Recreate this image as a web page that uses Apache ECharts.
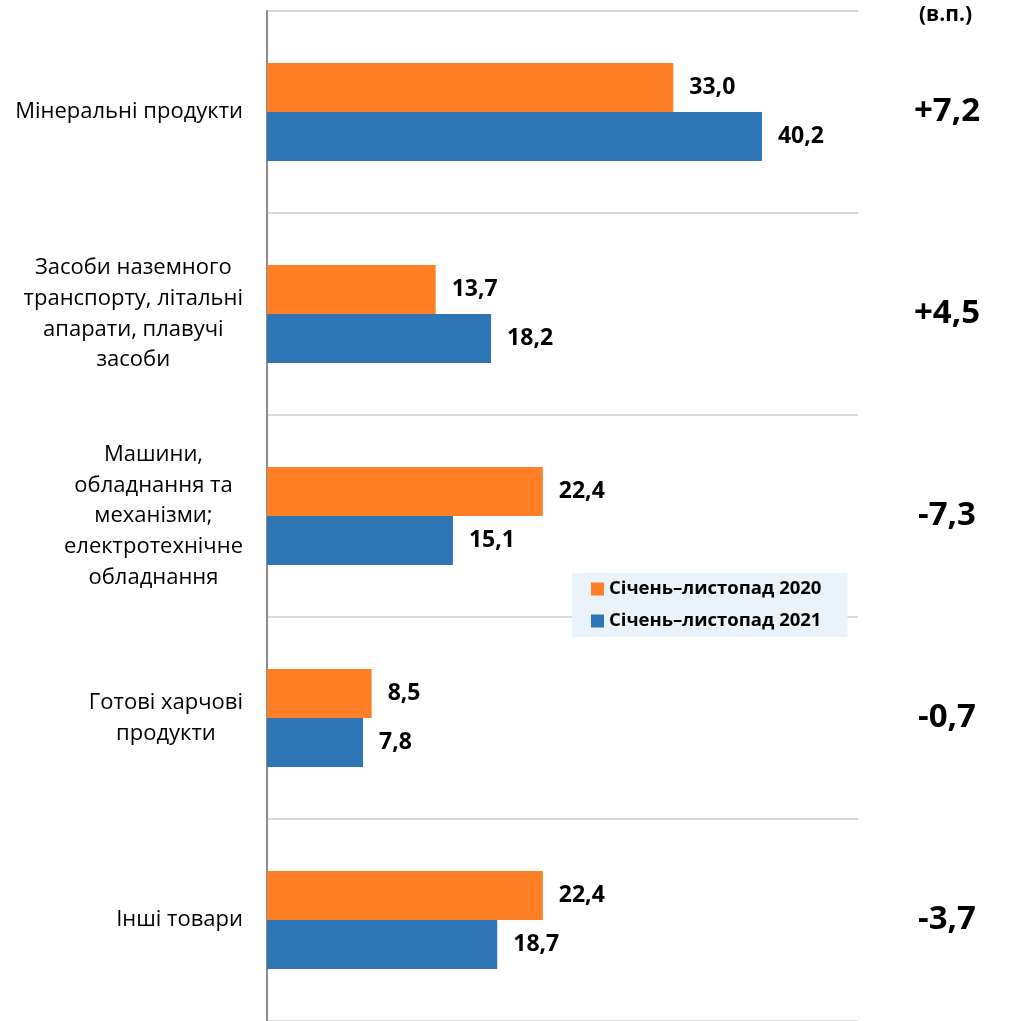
<!DOCTYPE html>
<html><head><meta charset="utf-8">
<script src="https://cdn.jsdelivr.net/npm/echarts@6/dist/echarts.min.js"></script>
<style>html,body{margin:0;padding:0;background:#fff}#c{width:1009px;height:1021px}</style>
</head><body><div id="c"></div>
<script>
const categories = ["Мінеральні продукти", "Засоби наземного\nтранспорту, літальні\nапарати, плавучі\nзасоби", "Машини,\nобладнання та\nмеханізми;\nелектротехнічне\nобладнання", "Готові харчові\nпродукти", "Інші товари"];
const values2020 = [33.0, 13.7, 22.4, 8.5, 22.4];
const values2021 = [40.2, 18.2, 15.1, 7.8, 18.7];
const diffs = ["+7,2", "+4,5", "-7,3", "-0,7", "-3,7"];
const seriesNames = ["Січень–листопад 2020", "Січень–листопад 2021"];
const unitLabel = "(в.п.)";

const FONT = "Open Sans";
const chart = echarts.init(document.getElementById('c'), null, {renderer: 'canvas'});
const fmt = p => p.value.toFixed(1).replace('.', ',');
chart.setOption({
  animation: false,
  textStyle: {fontFamily: FONT},
  title: {text: unitLabel, right: 32, top: 0, textStyle: {fontSize: 21, fontWeight: 'bold', color: '#000', fontFamily: FONT}},
  legend: {
    orient: 'vertical', left: 572, top: 573, itemGap: 10,
    padding: [5, 26, 5, 19],
    backgroundColor: '#EAF2FA',
    icon: 'rect', itemWidth: 13, itemHeight: 13,
    textStyle: {fontSize: 18.5, lineHeight: 22, fontWeight: 'bold', color: '#000', fontFamily: FONT},
    data: seriesNames
  },
  grid: {left: 267, right: 151, top: 11, height: 1015},
  xAxis: {type: 'value', min: 0, max: 48, show: false},
  yAxis: [{
    type: 'category', inverse: true, data: categories,
    axisLine: {lineStyle: {color: '#8c8c8c', width: 2}},
    axisTick: {length: 8, lineStyle: {color: '#8c8c8c', width: 2}},
    splitLine: {show: true, lineStyle: {color: '#d9d9d9', width: 2}},
    axisLabel: {
      margin: 24, align: 'right', color: '#000', fontFamily: FONT,
      formatter: v => v.split('\n').map(s => '{c|' + s + '}').join('\n'),
      rich: {c: {align: 'center', fontSize: 22, lineHeight: 30.7, color: '#000', fontFamily: FONT}}
    }
  }, {
    type: 'category', inverse: true, data: diffs, position: 'right',
    axisLine: {show: false}, axisTick: {show: false}, splitLine: {show: false},
    axisLabel: {margin: 89, align: 'center', fontSize: 33, fontWeight: 'bold', color: '#000', fontFamily: FONT}
  }],
  series: [{
    name: seriesNames[0], type: 'bar', data: values2020, barWidth: 49, barGap: '0%',
    itemStyle: {color: '#FF7F27'},
    label: {show: true, position: 'right', distance: 16, formatter: fmt, fontSize: 23, fontWeight: 'bold', color: '#000', fontFamily: FONT}
  }, {
    name: seriesNames[1], type: 'bar', data: values2021, barWidth: 49, barGap: '0%',
    itemStyle: {color: '#2E75B6'},
    label: {show: true, position: 'right', distance: 16, formatter: fmt, fontSize: 23, fontWeight: 'bold', color: '#000', fontFamily: FONT}
  }]
});
</script></body></html>
